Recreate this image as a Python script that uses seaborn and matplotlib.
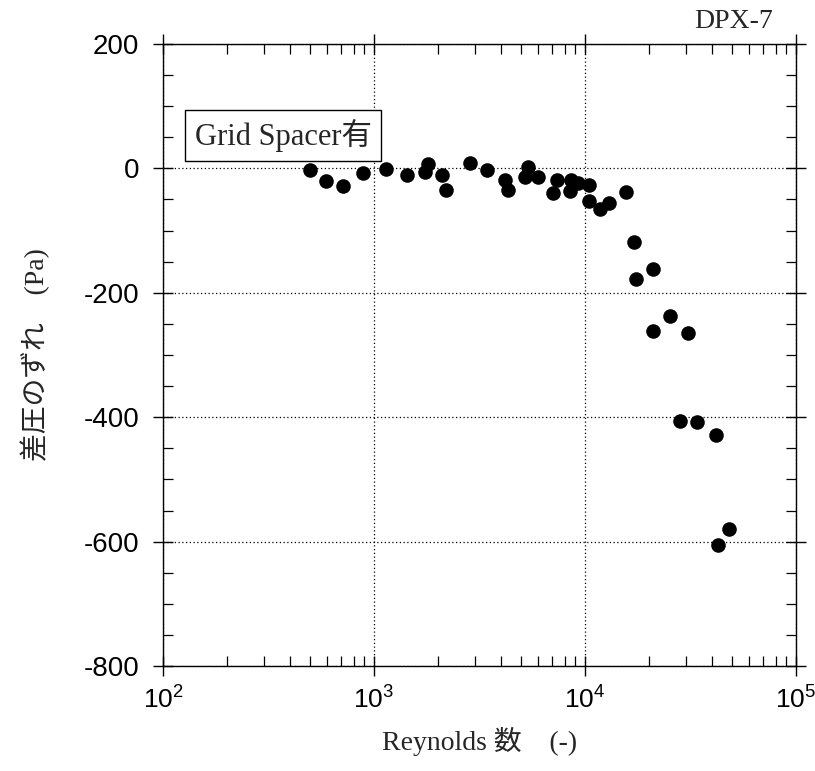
import matplotlib
matplotlib.use("Agg")
import matplotlib.pyplot as plt
import matplotlib.ticker as mticker
import numpy as np
import pandas as pd
import seaborn as sns

# Reynolds number and pressure-difference deviation (Pa)
reynolds = [495, 591, 714, 890, 1140, 1432, 1750, 1796, 2100, 2190,
            2865, 3420, 4180, 4300, 5210, 5370, 5960, 7070, 7330, 8480,
            8580, 9300, 10450, 10450, 11800, 13000, 15650, 16990, 17420, 20900,
            21000, 25200, 28100, 30800, 34100, 41700, 42800, 47900]
dp_shift = [-3, -20, -29, -8, -1, -11, -6, 7, -10, -35,
            9, -2, -18, -34, -14, 2, -14, -39, -19, -36,
            -18, -24, -27, -53, -66, -55, -38, -118, -178, -261,
            -162, -237, -406, -264, -408, -428, -605, -580]

y_ticks = [200, 0, -200, -400, -600, -800]
x_decades = [1e2, 1e3, 1e4, 1e5]

title_text = "DPX-7"
box_text = "Grid Spacer有"
x_label = "Reynolds 数　(-)"
y_label = "差圧のずれ　(Pa)"

sns.set_style("ticks")
plt.rcParams["font.family"] = ["Liberation Sans", "Noto Sans CJK JP"]
plt.rcParams["axes.unicode_minus"] = False
plt.rcParams["mathtext.fontset"] = "custom"
plt.rcParams["mathtext.rm"] = "Liberation Sans"
plt.rcParams["mathtext.default"] = "regular"

serif_jp = ["Liberation Serif", "Noto Sans CJK JP"]

df = pd.DataFrame({"Re": reynolds, "dP": dp_shift})

fig = plt.figure(figsize=(8.15, 7.71), dpi=100)
ax = fig.add_axes([163 / 815, 1 - 666 / 771, (796 - 163) / 815, (666 - 44) / 771])

sns.scatterplot(data=df, x="Re", y="dP", ax=ax, color="black", s=110,
                edgecolor="black", linewidth=0, zorder=3, legend=False)

ax.set_xscale("log")
ax.set_xlim(1e2, 1e5)
ax.set_ylim(-800, 200)

ax.set_xticks(x_decades)
ax.xaxis.set_major_formatter(mticker.LogFormatterSciNotation())
ax.xaxis.set_minor_locator(mticker.LogLocator(base=10, subs=np.arange(2, 10)))
ax.xaxis.set_minor_formatter(mticker.NullFormatter())
ax.set_yticks(y_ticks)
ax.yaxis.set_minor_locator(mticker.MultipleLocator(50))

ax.grid(True, which="major", color="black", linestyle=(0, (1, 2)), linewidth=0.9)

for side in ax.spines.values():
    side.set_color("black")
    side.set_linewidth(1.0)

ax.tick_params(which="major", direction="inout", length=14, width=1.0,
               top=True, right=True, labelsize=20, colors="black")
ax.tick_params(which="minor", direction="in", length=7, width=0.9,
               top=True, right=True, colors="black")
ax.tick_params(axis="y", which="major", pad=10)
ax.tick_params(axis="x", which="major", pad=8, labelsize=19)

ax.set_xlabel("")
ax.set_ylabel(y_label, family=serif_jp, fontsize=20, labelpad=24)
fig.text(480 / 815, 1 - 742 / 771, x_label, family=serif_jp, fontsize=20,
         ha="center", va="center")

ax.text(0.05, 0.853, box_text, transform=ax.transAxes, family=serif_jp,
        fontsize=22, ha="left", va="center",
        bbox=dict(boxstyle="square,pad=0.3", facecolor="white",
                  edgecolor="black", linewidth=1.0), zorder=4)

fig.text(773 / 815, 1 - 22 / 771, title_text, family=serif_jp, fontsize=20,
         ha="right", va="center")

fig.savefig("out.png", dpi=100, facecolor="white")
